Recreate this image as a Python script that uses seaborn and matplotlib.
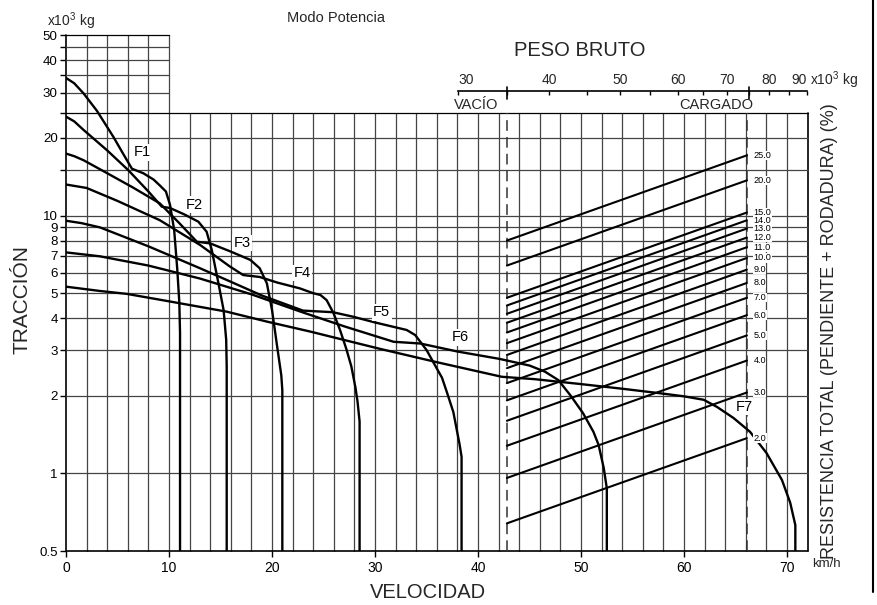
import numpy as np
import pandas as pd
import seaborn as sns
import matplotlib.pyplot as plt
from matplotlib.lines import Line2D
from matplotlib.ticker import NullLocator, NullFormatter, FixedLocator, FixedFormatter
import matplotlib.transforms as mtransforms

# ---------------- data ----------------
gears = ["F1", "F2", "F3", "F4", "F5", "F6", "F7"]

f1_vel = [0, 0.8, 1.7, 3.0, 4.6, 5.5, 6.4, 7.5, 8.5, 9.1, 9.7, 10.1, 10.5, 10.8, 11.0, 11.07, 11.07]
f1_trac = [34.2, 32.6, 29.8, 25.5, 20.2, 17.5, 15.2, 14.6, 13.8, 13.1, 12.4, 11.0, 8.8, 6.2, 4.6, 3.5, 0.5]

f2_vel = [0, 0.8, 1.7, 4.0, 6.05, 8.0, 9.3, 10.1, 11.5, 12.85, 13.65, 14.15, 14.8, 15.3, 15.55, 15.6, 15.6]
f2_trac = [24.2, 23.2, 21.5, 17.9, 15.0, 12.4, 10.83, 10.7, 10.1, 9.47, 8.66, 7.36, 5.46, 4.3, 3.3, 2.6, 0.5]

f3_vel = [0, 0.8, 1.7, 4.0, 6.5, 9.1, 11.0, 12.7, 14.0, 16.0, 17.9, 18.8, 19.5, 20.0, 20.5, 20.9, 21.0, 21.0]
f3_trac = [17.4, 17.0, 16.4, 14.6, 12.85, 11.16, 9.35, 7.92, 7.8, 7.25, 6.73, 6.25, 5.46, 4.3, 3.1, 2.4, 2.1, 0.5]

f4_vel = [0, 2.0, 5.0, 9.1, 13.0, 15.9, 17.2, 18.8, 20.5, 22.7, 24.0, 24.7, 25.3, 25.95, 26.6, 27.2, 27.7, 28.1, 28.3, 28.5, 28.5]
f4_trac = [13.2, 12.8, 11.4, 9.6, 7.7, 6.35, 5.88, 5.78, 5.5, 5.22, 5.0, 4.92, 4.7, 4.2, 3.6, 3.05, 2.6, 2.15, 1.9, 1.59, 0.5]

f5_vel = [0, 1.5, 3.3, 8.0, 13.0, 15.9, 19.0, 23.0, 25.9, 27.9, 30.0, 33.07, 33.9, 35.0, 36.0, 36.5, 37.0, 37.6, 38.2, 38.4, 38.4]
f5_trac = [9.55, 9.35, 9.0, 7.6, 6.25, 5.56, 4.9, 4.28, 4.22, 4.05, 3.85, 3.6, 3.44, 3.01, 2.55, 2.35, 2.05, 1.73, 1.3, 1.16, 0.5]

f6_vel = [0, 3.3, 8.0, 13.0, 18.0, 22.7, 27.0, 31.8, 34.4, 38.0, 42.1, 45.0, 46.5, 47.8, 49.0, 50.2, 51.2, 51.7, 52.2, 52.5, 52.5]
f6_trac = [7.2, 6.95, 6.4, 5.7, 4.95, 4.25, 3.72, 3.24, 3.19, 2.97, 2.78, 2.62, 2.48, 2.3, 2.0, 1.71, 1.45, 1.29, 1.05, 0.875, 0.5]

f7_vel = [0, 3.3, 5.9, 10.0, 15.6, 19.5, 23.7, 30.5, 36.0, 42.3, 45.5, 50.0, 54.0, 57.7, 60.0, 61.9, 63.2, 64.8, 66.4, 68.0, 69.5, 70.3, 70.8, 70.8]
f7_trac = [5.3, 5.1, 4.97, 4.65, 4.24, 3.88, 3.55, 3.04, 2.7, 2.37, 2.32, 2.22, 2.13, 2.045, 1.99, 1.93, 1.81, 1.64, 1.45, 1.2, 0.943, 0.77, 0.63, 0.5]

# label positions of gears (velocity, traction)
gear_label_vel = [7.4, 12.5, 17.1, 22.9, 30.65, 38.3, 65.8]
gear_label_trac = [17.6, 11.0, 7.83, 5.99, 4.21, 3.37, 1.81]

# total resistance lines (%), traction at empty (VACIO) and loaded (CARGADO) weights
resist_pct = [2, 3, 4, 5, 6, 7, 8, 9, 10, 11, 12, 13, 14, 15, 20, 25]
trac_vacio = [0.64, 0.96, 1.28, 1.60, 1.92, 2.24, 2.56, 2.88, 3.20, 3.52, 3.84, 4.16, 4.48, 4.80, 6.40, 8.00]
trac_cargado = [1.37, 2.06, 2.74, 3.43, 4.11, 4.80, 5.48, 6.17, 6.85, 7.54, 8.22, 8.91, 9.59, 10.28, 13.70, 17.13]

# gross weight scale (x10^3 kg)
peso_ticks = [30, 40, 50, 60, 70, 80, 90]
peso_minor = [35, 45, 55, 65, 75, 85]
peso_vacio = 35
peso_cargado = 75

y_tick_vals = [0.5, 1, 2, 3, 4, 5, 6, 7, 8, 9, 10, 15, 20, 25, 30, 35, 40, 45, 50]
y_tick_labels = ["0.5", "1", "2", "3", "4", "5", "6", "7", "8", "9", "10", "", "20", "", "30", "", "40", "", "50"]
x_tick_vals = [0, 10, 20, 30, 40, 50, 60, 70]

# ---------------- figure ----------------
sns.set_theme(style="white")
plt.rcParams['font.family'] = ['Liberation Sans', 'DejaVu Sans']
plt.rcParams['mathtext.fontset'] = 'custom'
plt.rcParams['mathtext.rm'] = 'Liberation Sans'
plt.rcParams['mathtext.it'] = 'Liberation Sans'

W, H = 878, 605
fig = plt.figure(figsize=(W / 100, H / 100), dpi=100)

def fx(px):
    return px / W

def fy(py):
    return 1 - py / H

x0p, x1p = 66, 807.7
y0p, y1p = 551, 35.4
ax = fig.add_axes([fx(x0p), fy(y0p), fx(x1p) - fx(x0p), fy(y1p) - fy(y0p)])
ax.set_yscale('log')
ax.set_xlim(0, 72)
ax.set_ylim(0.5, 50)
for s in ax.spines.values():
    s.set_visible(False)
ax.patch.set_visible(False)

grid_c = '#444444'
# vertical grid
for xv in range(0, 73, 2):
    top = 50 if xv <= 10 else 25
    lw = 1.2 if xv in (0, 72) else 0.9
    c = 'black' if xv in (0, 72) else grid_c
    ax.plot([xv, xv], [0.5, top], color=c, lw=lw, zorder=1, clip_on=False)
# horizontal grid
for yv in [0.5, 1, 2, 3, 4, 5, 6, 7, 8, 9, 10, 15, 20, 25]:
    lw = 1.2 if yv in (0.5,) else 0.9
    c = 'black' if yv in (0.5, 25) else grid_c
    ax.plot([0, 72], [yv, yv], color=c, lw=lw, zorder=1, clip_on=False)
for yv in [30, 35, 40, 45, 50]:
    ax.plot([0, 10], [yv, yv], color=grid_c if yv != 50 else 'black', lw=0.9, zorder=1, clip_on=False)

ax.yaxis.set_major_locator(FixedLocator(y_tick_vals))
ax.yaxis.set_major_formatter(FixedFormatter(y_tick_labels))
ax.yaxis.set_minor_locator(NullLocator())
ax.set_xticks(x_tick_vals)
ax.set_xticklabels([str(v) for v in x_tick_vals])
ax.tick_params(axis='both', which='major', direction='out', length=4, width=1,
               color='black', labelsize=10, labelcolor='black', left=True, bottom=True)
ax.tick_params(axis='y', pad=2, labelsize=9.6)
ax.tick_params(axis='x', pad=3)

# dashed VACIO / CARGADO lines
x_vacio, x_cargado = 42.8, 66.1
for xv in (x_vacio, x_cargado):
    ax.plot([xv, xv], [0.5, 25], color='#333333', lw=1.1, ls=(0, (7, 4)), zorder=2)

# resistance lines
rows = []
for p, tv, tc in zip(resist_pct, trac_vacio, trac_cargado):
    rows.append({"pct": p, "vel": x_vacio, "trac": tv})
    rows.append({"pct": p, "vel": x_cargado, "trac": tc})
df_res = pd.DataFrame(rows)
sns.lineplot(data=df_res, x="vel", y="trac", units="pct", estimator=None, sort=False,
             color='black', lw=1.5, ax=ax, zorder=3)
for p, tc in zip(resist_pct, trac_cargado):
    ax.text(66.75, tc, f"{p:.1f}", fontsize=6.6, ha='left', va='center', color='black', zorder=5,
            bbox=dict(facecolor='white', edgecolor='none', pad=0.1))

# gear curves
curves = [(f1_vel, f1_trac), (f2_vel, f2_trac), (f3_vel, f3_trac), (f4_vel, f4_trac),
          (f5_vel, f5_trac), (f6_vel, f6_trac), (f7_vel, f7_trac)]
rows = []
for g, (xs, ys) in zip(gears, curves):
    for xv, yv in zip(xs, ys):
        rows.append({"marcha": g, "vel": xv, "trac": yv})
df_cur = pd.DataFrame(rows)
sns.lineplot(data=df_cur, x="vel", y="trac", units="marcha", estimator=None, sort=False,
             color='black', lw=1.7, ax=ax, zorder=4)
for g, xv, yv in zip(gears, gear_label_vel, gear_label_trac):
    ax.text(xv, yv, g, fontsize=10.5, ha='center', va='center', color='black', zorder=6,
            bbox=dict(facecolor='white', edgecolor='none', pad=1.0))

ax.set_xlabel("")
ax.set_ylabel("")
if ax.get_legend() is not None:
    ax.get_legend().remove()

# weight scale (log)
axw = fig.add_axes([fx(458), fy(91), fx(806.7) - fx(458), 0.0005])
axw.set_xscale('log')
axw.set_xlim(30, 90)
axw.set_yticks([])
axw.patch.set_visible(False)
for s in ['left', 'right', 'top']:
    axw.spines[s].set_visible(False)
axw.spines['bottom'].set_color('black')
axw.spines['bottom'].set_linewidth(1.2)
axw.xaxis.set_major_locator(FixedLocator(peso_ticks))
axw.xaxis.set_major_formatter(NullFormatter())
axw.xaxis.set_minor_locator(FixedLocator(peso_minor))
axw.xaxis.set_minor_formatter(NullFormatter())
axw.tick_params(axis='x', which='major', bottom=True, top=False, labelbottom=False, labeltop=False,
                direction='out', length=3, width=1, color='black')
axw.tick_params(axis='x', which='minor', bottom=True, top=False, direction='out', length=3,
                width=1, color='black')
blend = mtransforms.blended_transform_factory(axw.transData, fig.transFigure)
for pv in (peso_vacio, peso_cargado):
    fig.add_artist(Line2D([pv, pv], [fy(87), fy(99)], transform=blend, color='black', lw=1.2))
for i, pv in enumerate(peso_ticks):
    ha = 'left' if i == 0 else ('right' if i == len(peso_ticks) - 1 else 'center')
    axw.text(pv, fy(80), str(pv), transform=blend, fontsize=10, ha=ha, va='center')

# texts
fig.text(fx(47), fy(21), "x10$^3$ kg", fontsize=10, ha='left', va='center')
fig.text(fx(336), fy(18), "Modo Potencia", fontsize=10.5, ha='center', va='center')
fig.text(fx(580), fy(51), "PESO BRUTO", fontsize=14.5, ha='center', va='center')
fig.text(fx(810), fy(80), "x10$^3$ kg", fontsize=10, ha='left', va='center')
fig.text(fx(476), fy(105), "VACÍO", fontsize=10.5, ha='center', va='center')
fig.text(fx(716), fy(105), "CARGADO", fontsize=10.5, ha='center', va='center')
fig.text(fx(22), fy(300), "TRACCIÓN", fontsize=15, ha='center', va='center', rotation=90)
fig.text(fx(428), fy(593), "VELOCIDAD", fontsize=14.5, ha='center', va='center')
fig.text(fx(812), fy(564), "km/h", fontsize=9.5, ha='left', va='center')
fig.text(fx(830), fy(331), "RESISTENCIA TOTAL (PENDIENTE + RODADURA) (%)", fontsize=13,
         ha='center', va='center', rotation=90)

fig.add_artist(Line2D([fx(873), fx(873)], [1.0, fy(592)], color='black', lw=1.5))

fig.savefig("out.png", dpi=100, facecolor='white')
